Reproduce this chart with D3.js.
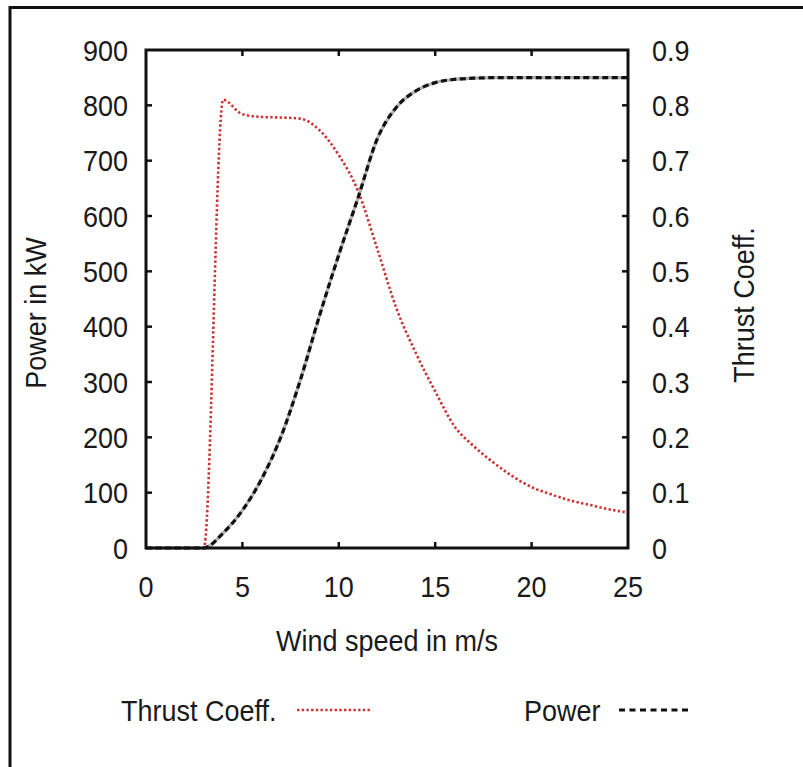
<!DOCTYPE html>
<html>
<head>
<meta charset="utf-8">
<script src="https://cdn.jsdelivr.net/npm/d3@7"></script>
<style>
  html, body { margin: 0; padding: 0; background: #fff; }
  svg text { font-family: "Liberation Sans", Arial, Helvetica, sans-serif; fill: #1a1a1a; }
</style>
</head>
<body>
<svg id="chart" width="803" height="767"></svg>
<script>
// Wind speed grid (m/s)
const windSpeed = [0, 1, 2, 3, 4, 5, 6, 7, 8, 9, 10, 11, 12, 13, 14, 15, 16, 17, 18, 19, 20, 21, 22, 23, 24, 25];
// Electrical power output (kW)
const powerKW = [0, 0, 0, 0, 27, 68, 125, 201, 303, 420, 530, 633, 740, 797, 826, 841, 847, 849, 850, 850, 850, 850, 850, 850, 850, 850];
// Thrust coefficient (-)
const thrustCoeff = [0, 0, 0, 0, 0.81, 0.784, 0.779, 0.778, 0.776, 0.755, 0.71, 0.645, 0.54, 0.432, 0.352, 0.283, 0.22, 0.184, 0.155, 0.13, 0.11, 0.097, 0.086, 0.078, 0.07, 0.064];

const xTicks = [0, 5, 10, 15, 20, 25];
const powerTicks = [0, 100, 200, 300, 400, 500, 600, 700, 800, 900];
const thrustTicks = [0, 0.1, 0.2, 0.3, 0.4, 0.5, 0.6, 0.7, 0.8, 0.9];

const labels = {
  x: "Wind speed in m/s",
  yLeft: "Power in kW",
  yRight: "Thrust Coeff.",
  thrust: "Thrust Coeff.",
  power: "Power"
};

const svg = d3.select("#chart");
const plot = { left: 146, right: 628, top: 50, bottom: 548 };
const fontSize = 27;
const stretchY = 1.1; // glyphs are drawn a little taller than wide

const x = d3.scaleLinear().domain([0, 25]).range([plot.left, plot.right]);
const yP = d3.scaleLinear().domain([0, 900]).range([plot.bottom, plot.top]);
const yT = d3.scaleLinear().domain([0, 0.9]).range([plot.bottom, plot.top]);

// text helper: anchor point, optional rotation, vertical stretch of glyphs
function label(parent, px, py, str, anchor, rot, dy) {
  return parent.append("text")
    .attr("transform", `translate(${px},${py}) rotate(${rot || 0}) scale(1,${stretchY})`)
    .attr("font-size", fontSize)
    .attr("text-anchor", anchor)
    .attr("dy", dy || 0)
    .text(str);
}

// outer frame (left and top edges)
svg.append("path")
  .attr("d", "M10,767 V7.5 H803")
  .attr("fill", "none").attr("stroke", "#111").attr("stroke-width", 3);

// curves
const powerData = windSpeed.map((w, i) => [w, powerKW[i]]);
const thrustData = windSpeed.map((w, i) => [w, thrustCoeff[i]]);

const powerLine = d3.line().x(d => x(d[0])).y(d => yP(d[1])).curve(d3.curveMonotoneX);
const thrustLine = d3.line().x(d => x(d[0])).y(d => yT(d[1])).curve(d3.curveMonotoneX);

svg.append("path").datum(thrustData)
  .attr("d", thrustLine).attr("fill", "none")
  .attr("stroke", "#cc3333").attr("stroke-width", 2.6)
  .attr("stroke-dasharray", "2.4 2.3");

svg.append("path").datum(powerData)
  .attr("d", powerLine).attr("fill", "none")
  .attr("stroke", "#b0b0b0").attr("stroke-width", 3.2);
svg.append("path").datum(powerData)
  .attr("d", powerLine).attr("fill", "none")
  .attr("stroke", "#111").attr("stroke-width", 3.2)
  .attr("stroke-dasharray", "6 3.5");

// axes with inward ticks
const tickLen = 6;
const axisG = svg.append("g").attr("stroke", "#111").attr("stroke-width", 2.5);
xTicks.slice(1, -1).forEach(t => {
  axisG.append("line").attr("x1", x(t)).attr("x2", x(t)).attr("y1", plot.bottom).attr("y2", plot.bottom - tickLen);
  axisG.append("line").attr("x1", x(t)).attr("x2", x(t)).attr("y1", plot.top).attr("y2", plot.top + tickLen);
});
powerTicks.slice(1, -1).forEach(t => {
  axisG.append("line").attr("x1", plot.left).attr("x2", plot.left + tickLen).attr("y1", yP(t)).attr("y2", yP(t));
});
thrustTicks.slice(1, -1).forEach(t => {
  axisG.append("line").attr("x1", plot.right).attr("x2", plot.right - tickLen).attr("y1", yT(t)).attr("y2", yT(t));
});
svg.append("rect")
  .attr("x", plot.left).attr("y", plot.top)
  .attr("width", plot.right - plot.left).attr("height", plot.bottom - plot.top)
  .attr("fill", "none").attr("stroke", "#111").attr("stroke-width", 3);

// tick labels
const tl = svg.append("g");
xTicks.forEach(t => label(tl, x(t), 586, t, "middle", 0, "0.36em"));
powerTicks.forEach(t => label(tl, 128, yP(t), t, "end", 0, "0.36em"));
thrustTicks.forEach(t => label(tl, 652, yT(t), d3.format("~g")(t), "start", 0, "0.36em"));

// axis titles
label(svg, (plot.left + plot.right) / 2, 640, labels.x, "middle", 0, "0.36em");
label(svg, 35, 313, labels.yLeft, "middle", -90, "0.36em");
label(svg, 743, 305, labels.yRight, "middle", -90, "0.36em");

// legend
const legY = 710;
label(svg, 121, legY, labels.thrust, "start", 0, "0.36em");
svg.append("line").attr("x1", 297).attr("x2", 372).attr("y1", legY).attr("y2", legY)
  .attr("stroke", "#cc3333").attr("stroke-width", 2.6).attr("stroke-dasharray", "2.4 2.3");
label(svg, 524, legY, labels.power, "start", 0, "0.36em");
svg.append("line").attr("x1", 619).attr("x2", 691).attr("y1", legY).attr("y2", legY)
  .attr("stroke", "#111").attr("stroke-width", 3.2).attr("stroke-dasharray", "6 4.5");
</script>
</body>
</html>
